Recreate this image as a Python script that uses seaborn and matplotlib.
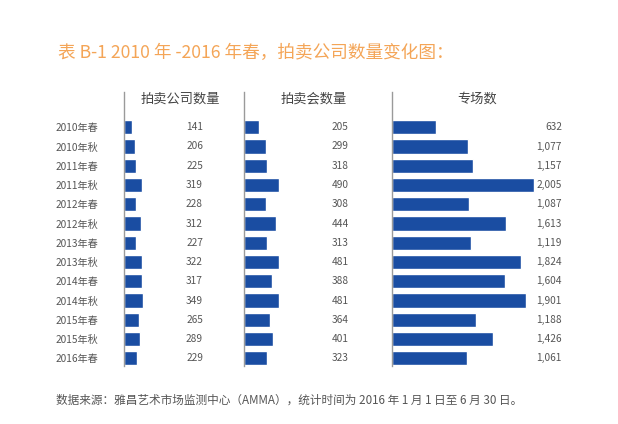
import seaborn as sns, matplotlib.pyplot as plt
import pandas as pd

# datos
periodos = ['2010年春', '2010年秋', '2011年春', '2011年秋', '2012年春', '2012年秋', '2013年春',
            '2013年秋', '2014年春', '2014年秋', '2015年春', '2015年秋', '2016年春']
empresas = [141, 206, 225, 319, 228, 312, 227, 322, 317, 349, 265, 289, 229]
subastas = [205, 299, 318, 490, 308, 444, 313, 481, 388, 481, 364, 401, 323]
sesiones = [632, 1077, 1157, 2005, 1087, 1613, 1119, 1824, 1604, 1901, 1188, 1426, 1061]
encabezados = ['拍卖公司数量', '拍卖会数量', '专场数']

titulo = '表 B-1 2010 年 -2016 年春，拍卖公司数量变化图：'
fuente = '数据来源：雅昌艺术市场监测中心（AMMA），统计时间为 2016 年 1 月 1 日至 6 月 30 日。'

df = pd.DataFrame({'periodo': periodos, 'empresas': empresas,
                   'subastas': subastas, 'sesiones': sesiones})

sns.set_style('white')
plt.rcParams['font.family'] = ['Noto Sans CJK SC', 'DejaVu Sans']

AZUL = '#1a4da2'
GRIS = '#555555'
W, H = 618, 424

fig = plt.figure(figsize=(W / 100, H / 100), dpi=100)

# (columna, izquierda px, ancho px, xmax, x etiqueta, x encabezado)
columnas = [
    ('empresas', 123.5, 90, 1579, 0.883, 0.628),
    ('subastas', 244, 110, 1528, 0.95, 0.636),
    ('sesiones', 391.5, 175, 2470, 0.973, 0.489),
]
top_px, bot_px = 92, 366

for i, (col, left, width, xmax, xlab, xhead) in enumerate(columnas):
    ax = fig.add_axes([left / W, 1 - bot_px / H, width / W, (bot_px - top_px) / H])
    sns.barplot(data=df, x=col, y='periodo', orient='h', color=AZUL,
                saturation=1, width=0.74, ax=ax)
    ax.set_xlim(0, xmax)
    ax.set_ylim(12.4, -1.83)
    ax.set_xlabel('')
    ax.set_ylabel('')
    ax.set_xticks([])
    for s in ['top', 'right', 'bottom']:
        ax.spines[s].set_visible(False)
    ax.spines['left'].set_color('#9a9a9a')
    ax.spines['left'].set_linewidth(1)
    if i == 0:
        ax.tick_params(axis='y', length=0, pad=18, labelsize=7.3, labelcolor=GRIS)
    else:
        ax.set_yticks([])
    # valores a la derecha
    tr = ax.get_yaxis_transform()
    for j, v in enumerate(df[col]):
        ax.text(xlab, j, f'{v:,}', transform=tr, ha='right', va='center',
                fontsize=7.3, color=GRIS)
    ax.text(xhead, -1.47, encabezados[i], transform=tr, ha='center', va='center',
            fontsize=9.5, color='#444444')

fig.text(58 / W, 1 - 53 / H, titulo, ha='left', va='center', fontsize=12.7, color='#f4a557')
fig.text(56 / W, 1 - 400 / H, fuente, ha='left', va='center', fontsize=8.4, color=GRIS)

plt.savefig('out.png', dpi=100)
